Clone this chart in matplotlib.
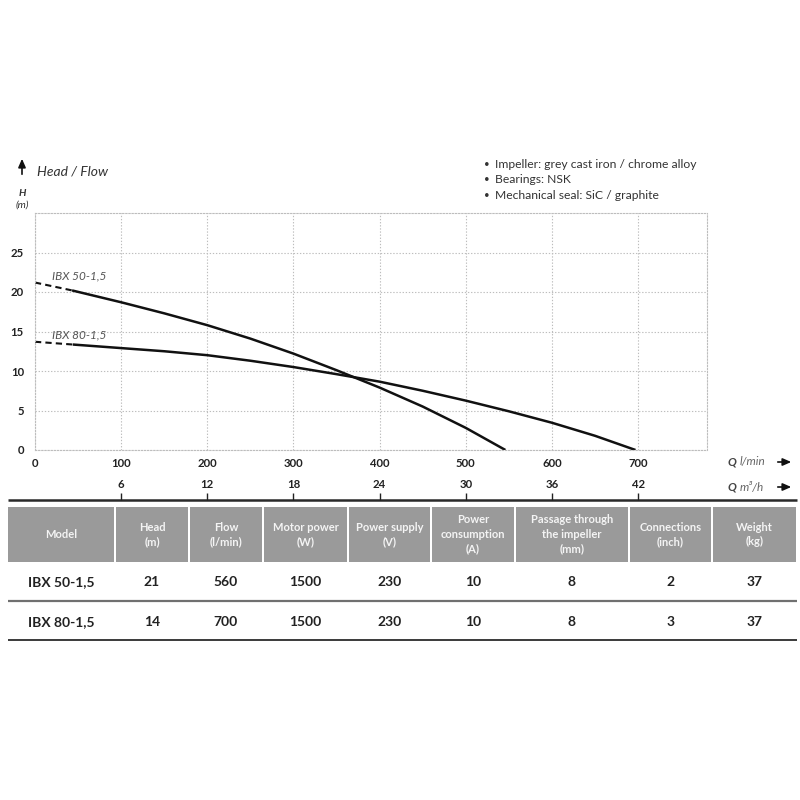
import matplotlib
matplotlib.use("Agg")
import matplotlib.pyplot as plt
from matplotlib import font_manager

names = {f.name for f in font_manager.fontManager.ttflist}
FONT = None
for cand in ["Lato", "Open Sans", "DejaVu Sans"]:
    if cand in names:
        FONT = cand
        break
plt.rcParams['font.family'] = [FONT, 'DejaVu Sans']

# ---------------- data ----------------
q50 = [0, 43, 100, 150, 200, 250, 300, 350, 400, 450, 500, 546]
h50 = [21.2, 20.2, 18.7, 17.3, 15.8, 14.1, 12.2, 10.1, 7.9, 5.5, 2.8, 0]
q80 = [0, 44, 100, 150, 200, 250, 300, 350, 400, 450, 500, 550, 600, 650, 697]
h80 = [13.7, 13.35, 12.9, 12.5, 12.0, 11.3, 10.5, 9.6, 8.65, 7.5, 6.25, 4.9, 3.45, 1.8, 0]
label50 = "IBX 50-1,5"
label80 = "IBX 80-1,5"
xticks_lmin = [0, 100, 200, 300, 400, 500, 600, 700]
yticks_h = [0, 5, 10, 15, 20, 25]
xticks_m3h = [6, 12, 18, 24, 30, 36, 42]
bullets = ["Impeller: grey cast iron / chrome alloy",
           "Bearings: NSK",
           "Mechanical seal: SiC / graphite"]
columns = ["Model", "Head\n(m)", "Flow\n(l/min)", "Motor power\n(W)",
           "Power supply\n(V)", "Power\nconsumption\n(A)",
           "Passage through\nthe impeller\n(mm)", "Connections\n(inch)",
           "Weight\n(kg)"]
rows = [["IBX 50-1,5", "21", "560", "1500", "230", "10", "8", "2", "37"],
        ["IBX 80-1,5", "14", "700", "1500", "230", "10", "8", "3", "37"]]

# ---------------- figure ----------------
fig = plt.figure(figsize=(8, 8), dpi=100)
fig.patch.set_facecolor("white")

# overlay in pixel coordinates
ov = fig.add_axes([0, 0, 1, 1], zorder=0)
ov.set_xlim(0, 800)
ov.set_ylim(800, 0)
ov.axis("off")

# main chart
ax = fig.add_axes([35/800, 1-450/800, (707-35)/800, (450-213)/800], zorder=2)
ax.set_facecolor("none")
ax.set_xlim(0, 780)
ax.set_ylim(0, 30)
ax.set_xticks(xticks_lmin)
ax.set_yticks(yticks_h)
gridc = "#bdbdbd"
ax.grid(True, color=gridc, linestyle=(0, (1.2, 1.6)), linewidth=0.8)
for s in ax.spines.values():
    s.set_color(gridc)
    s.set_linestyle((0, (1.2, 1.6)))
    s.set_linewidth(0.8)
ax.tick_params(axis="both", length=0, labelsize=8.2, colors="#222222")
ax.tick_params(axis="x", pad=6)
ax.tick_params(axis="y", pad=8)
for t in ax.get_xticklabels() + ax.get_yticklabels():
    t.set_fontweight("bold")

for q, h in ((q50, h50), (q80, h80)):
    ax.plot(q[:2], h[:2], color="#111111", lw=1.5, linestyle=(0, (3, 2)))
    ax.plot(q[1:], h[1:], color="#111111", lw=1.8, solid_capstyle="butt",
            solid_joinstyle="round")
ax.text(20, 22.0, label50, fontsize=8.5, style="italic", color="#555555", va="center")
ax.text(20, 14.6, label80, fontsize=8.5, style="italic", color="#555555", va="center")

# secondary m3/h axis
ax2 = fig.add_axes([35/800, 1-500/800, (707-35)/800, 0.0005], zorder=2)
ax2.set_facecolor("none")
ax2.set_xlim(0, 780*0.06)
ax2.set_xticks(xticks_m3h)
ax2.set_yticks([])
for s in ax2.spines.values():
    s.set_visible(False)
ax2.xaxis.set_ticks_position("top")
ax2.tick_params(axis="x", direction="out", length=5, width=1, colors="#222222",
                labelsize=8.2, pad=2, labeltop=True, labelbottom=False)
for t in ax2.get_xticklabels():
    t.set_fontweight("bold")

# header annotations
ov.annotate("", xy=(22, 156), xytext=(22, 177),
            arrowprops=dict(arrowstyle="-|>,head_length=0.5,head_width=0.22", color="#111111", lw=1.2))
ov.text(37, 171, "Head / Flow", fontsize=10, style="italic", color="#333333", va="center")
ov.text(22, 193, "H", fontsize=7.5, style="italic", fontweight="bold", color="#333333", ha="center", va="center")
ov.text(22, 205, "(m)", fontsize=7.5, style="italic", color="#333333", ha="center", va="center")

for i, b in enumerate(bullets):
    y = 164 + i*15.7
    ov.text(487, y, "•", fontsize=7, color="#333333", ha="center", va="center")
    ov.text(495, y, b, fontsize=8.7, color="#333333", va="center")

# axis unit labels with arrows
ov.text(728, 462, "Q", fontsize=8.5, style="italic", fontweight="bold", color="#444444", va="center")
ov.text(740, 462, "l/min", fontsize=8.5, style="italic", color="#666666", va="center")
ov.text(728, 487, "Q", fontsize=8.5, style="italic", fontweight="bold", color="#444444", va="center")
ov.text(740, 487, "m³/h", fontsize=8.5, style="italic", color="#666666", va="center")
for y in (462, 487):
    ov.annotate("", xy=(794, y), xytext=(775, y),
                arrowprops=dict(arrowstyle="-|>,head_length=0.5,head_width=0.22", color="#111111", lw=1.2))

# ---------------- table ----------------
edges = [7, 115, 189, 263, 348, 431, 515, 629, 712, 797]
ov.plot([8, 797], [500, 500], color="#2a2a2a", lw=1.8, solid_capstyle="butt")
head_top, head_bot = 507, 562
for i, col in enumerate(columns):
    x0, x1 = edges[i] + 1, edges[i+1] - 1
    ov.add_patch(plt.Rectangle((x0, head_top), x1 - x0, head_bot - head_top,
                               facecolor="#9a9a9a", edgecolor="none"))
    ov.text((edges[i] + edges[i+1]) / 2, (head_top + head_bot) / 2, col,
            fontsize=8, fontweight="bold", color="#f4f4f4",
            ha="center", va="center", linespacing=1.4)

row_y = [582, 622]
for r, yy in zip(rows, row_y):
    for i, val in enumerate(r):
        ov.text((edges[i] + edges[i+1]) / 2, yy, val, fontsize=10, fontweight="bold",
                color="#222222", ha="center", va="center")
ov.plot([8, 797], [601, 601], color="#707070", lw=1.6, solid_capstyle="butt")
ov.plot([8, 797], [640, 640], color="#3a3a3a", lw=1.4, solid_capstyle="butt")

fig.savefig("out.png", dpi=100, facecolor="white")
